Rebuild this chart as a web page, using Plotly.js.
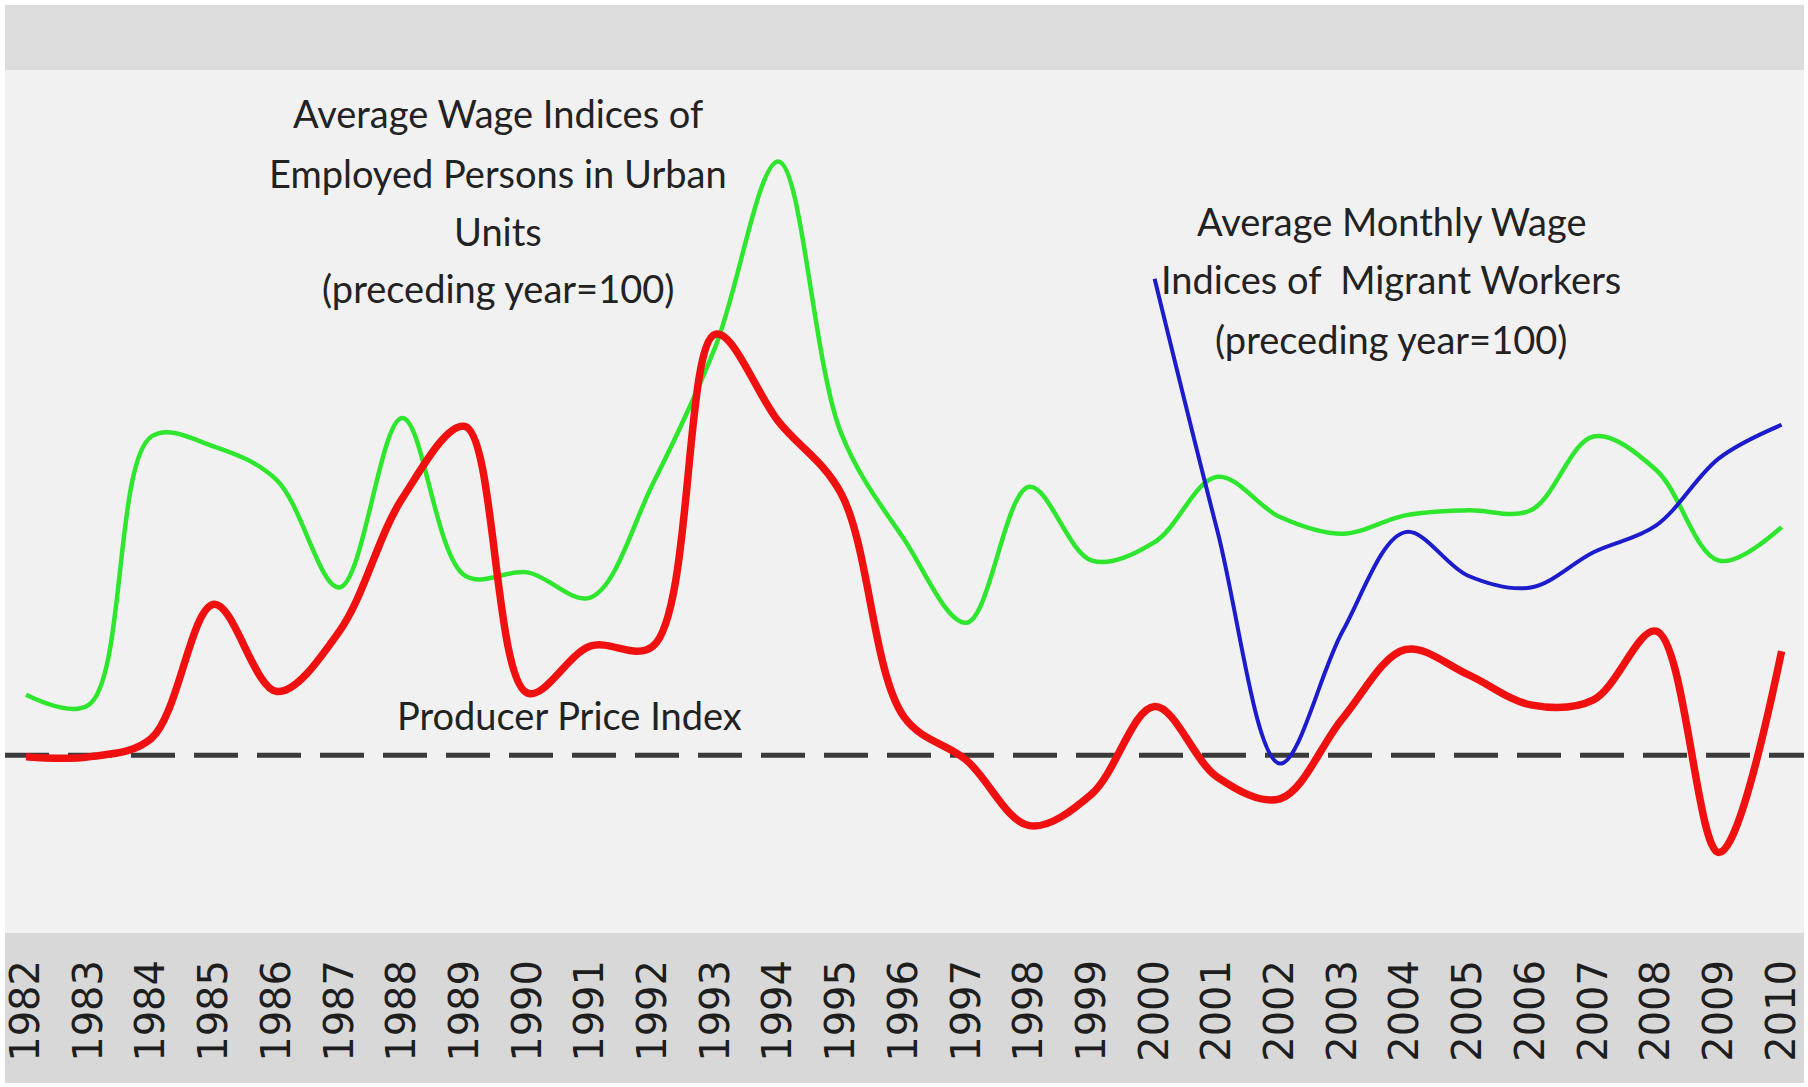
<!DOCTYPE html>
<html>
<head>
<meta charset="utf-8">
<script src="https://cdn.plot.ly/plotly-3.0.1.min.js"></script>
<style>
  html, body { margin: 0; padding: 0; background: #ffffff; overflow: hidden; }
  #chart { width: 1808px; height: 1087px; }
</style>
</head>
<body>
<div id="chart"></div>
<script>
// ---- data (index, preceding year = 100) ----
const years = [1982, 1983, 1984, 1985, 1986, 1987, 1988, 1989, 1990, 1991,
               1992, 1993, 1994, 1995, 1996, 1997, 1998, 1999, 2000, 2001,
               2002, 2003, 2004, 2005, 2006, 2007, 2008, 2009, 2010];
const yearLabels = years.map(String);

// green: Average Wage Indices of Employed Persons in Urban Units
const urbanWage = [103.6, 103.0, 119.0, 118.4, 116.4, 110.0, 120.1, 110.7, 110.9, 109.4,
                   116.2, 124.4, 135.4, 119.2, 112.9, 107.9, 116.0, 111.6, 112.7, 116.6,
                   114.2, 113.2, 114.3, 114.6, 114.6, 119.0, 117.0, 111.6, 113.6];

// red series
const redIndex = [99.9, 99.9, 101.0, 109.0, 103.8, 107.4, 115.3, 119.6, 103.7, 106.5,
                  106.5, 125.1, 119.9, 115.6, 102.3, 99.7, 95.8, 97.7, 102.9, 98.7,
                  97.4, 102.2, 106.3, 104.8, 103.0, 103.3, 107.4, 94.2, 106.2];

// blue: Average Monthly Wage Indices of Migrant Workers
const migrantYears = [2000, 2001, 2002, 2003, 2004, 2005, 2006, 2007, 2008, 2009, 2010];
const migrantWage = [128.4, 113.4, 99.5, 107.4, 113.3, 110.7, 110.0, 112.1, 113.7, 117.7, 119.7];

// dashed reference: Producer Price Index
const ppiLevel = 100;

const labelUrban = ["Average Wage Indices of", "Employed Persons in Urban", "Units", "(preceding year=100)"];
const labelMigrant = ["Average Monthly Wage", "Indices of\u00a0 Migrant Workers", "(preceding year=100)"];
const labelPPI = "Producer Price Index";

// ---- layout helpers (pixel -> paper) ----
const W = 1808, H = 1087;
const mL = 5, mR = 4, mT = 70, mB = 154;
const plotW = W - mL - mR, plotH = H - mT - mB;
const px = x => (x - mL) / plotW;
const py = y => (H - mB - y) / plotH;

const textFont = { family: "Lato, 'Open Sans', sans-serif", size: 38, color: "#222222" };

function lineAnn(text, x, y) {
  return { text: text, xref: "paper", yref: "paper", x: px(x), y: py(y),
           xanchor: "center", yanchor: "middle", showarrow: false, font: textFont };
}

const annotations = [];
const urbanY = [113, 173, 231, 288];
labelUrban.forEach((t, i) => annotations.push(lineAnn(t, 498, urbanY[i])));
const migY = [221, 279, 339];
labelMigrant.forEach((t, i) => annotations.push(lineAnn(t, 1391, migY[i])));
annotations.push(lineAnn(labelPPI, 569, 715));

const traces = [
  { x: years, y: urbanWage, type: "scatter", mode: "lines",
    line: { color: "#2ee62e", width: 4.5, shape: "spline", smoothing: 1 }, hoverinfo: "skip" },
  { x: years, y: redIndex, type: "scatter", mode: "lines",
    line: { color: "#f01010", width: 7.5, shape: "spline", smoothing: 1 }, hoverinfo: "skip" },
  { x: migrantYears, y: migrantWage, type: "scatter", mode: "lines",
    line: { color: "#1c1ccc", width: 4, shape: "spline", smoothing: 1 }, hoverinfo: "skip" }
];

const step = 62.7;
const x0 = years[0] - 21 / step;
const x1 = years[0] + (W - mR - 26) / step;

const layout = {
  width: W, height: H,
  margin: { l: mL, r: mR, t: mT, b: mB, pad: 0 },
  paper_bgcolor: "#ffffff",
  plot_bgcolor: "#f1f1f1",
  showlegend: false,
  xaxis: {
    range: [x0, x1],
    tickmode: "array", tickvals: years, ticktext: yearLabels,
    tickangle: -90,
    ticks: "", showgrid: false, zeroline: false, showline: false,
    ticklabelstandoff: 18,
    ticklabeloverflow: "allow",
    tickfont: { family: "'DejaVu Sans', sans-serif", size: 40, color: "#1e1e1e" },
    fixedrange: true
  },
  yaxis: {
    range: [89.40, 140.85],
    visible: false, showgrid: false, zeroline: false, fixedrange: true
  },
  shapes: [
    { type: "rect", xref: "paper", yref: "paper", x0: 0, x1: 1, y0: 1, y1: 1 + 65 / plotH,
      fillcolor: "#dcdcdc", line: { width: 0 }, layer: "below" },
    { type: "rect", xref: "paper", yref: "paper", x0: 0, x1: 1, y0: 0, y1: -150 / plotH,
      fillcolor: "#d8d8d8", line: { width: 0 }, layer: "below" },
    { type: "line", xref: "paper", yref: "y", x0: 0, x1: 1, y0: ppiLevel, y1: ppiLevel,
      line: { color: "#3a3a3a", width: 5, dash: "44px,19px" }, layer: "below" }
  ],
  annotations: annotations
};

Plotly.newPlot("chart", traces, layout, { displayModeBar: false, staticPlot: true });
</script>
</body>
</html>
